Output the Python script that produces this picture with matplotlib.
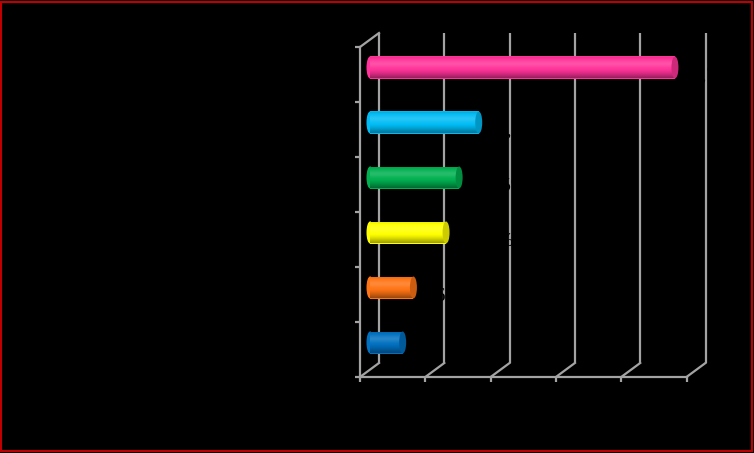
import matplotlib
matplotlib.use('Agg')
import matplotlib.pyplot as plt
import numpy as np
from matplotlib.patches import Ellipse, Rectangle
from matplotlib.transforms import ScaledTranslation
from matplotlib.colors import to_rgb

categories = ["MIMF", "MIMF + anti HTA", "CIC + anti HTA + Imurel",
              "MIMF + CIC + anti HTA + Oméprazole", "MIMF + CIC",
              "MIMF + CIC + anti HTA"]
values = [5.0, 6.65, 11.65, 13.65, 16.65, 46.70]
value_labels = ["5%", "6,65%", "11,65%", "13,65%", "16,65%", "46,70%"]
bar_colors = ["#0070C0", "#FF7414", "#FFFF00", "#00B050", "#00BCF5", "#FF3399"]
x_ticks = [0, 10, 20, 30, 40, 50]
x_tick_labels = ["0%", "10%", "20%", "30%", "40%", "50%"]

W, H = 754, 453
fig = plt.figure(figsize=(W / 100, H / 100), dpi=100, facecolor='black')
AX_W, AX_H = 326.5, 330.0
ax = fig.add_axes([370 / W, (H - 370) / H, AX_W / W, AX_H / H])
ax.set_facecolor('none')
for s in ax.spines.values():
    s.set_visible(False)
ax.set_xticks([])
ax.set_yticks([])

XMAX = 50
NCAT = len(categories)
px_x = XMAX / AX_W
px_y = NCAT / AX_H


def off(dx, dy):
    return ScaledTranslation(dx / 100, dy / 100, fig.dpi_scale_trans)


front = ax.transData + off(-10, -7)
back = ax.transData + off(9, 7)
grid_c = '#A3A3A3'
glw = 1.6
y0, y1 = -0.5, NCAT - 0.5

# back wall gridlines
for t in x_ticks:
    ax.plot([t, t], [y0, y1], color=grid_c, lw=glw, transform=back,
            clip_on=False, zorder=1, solid_capstyle='butt')
    ax.plot([t - 10 * px_x, t + 9 * px_x], [y0 - 7 * px_y, y0 + 7 * px_y],
            color=grid_c, lw=glw, clip_on=False, zorder=1)
    ax.plot([t, t], [y0, y0 - 5 * px_y], color=grid_c, lw=glw, transform=front,
            clip_on=False, zorder=1, solid_capstyle='butt')

ax.plot([0, XMAX], [y0, y0], color=grid_c, lw=glw, transform=front,
        clip_on=False, zorder=1)
ax.plot([0, 0], [y0, y1], color=grid_c, lw=glw, transform=front,
        clip_on=False, zorder=1)
for b in np.arange(y0, y1 + 0.01, 1.0):
    ax.plot([0, -5 * px_x], [b, b], color=grid_c, lw=glw, transform=front,
            clip_on=False, zorder=1, solid_capstyle='butt')
ax.plot([-10 * px_x, 9 * px_x], [y1 - 7 * px_y, y1 + 7 * px_y],
        color=grid_c, lw=glw, clip_on=False, zorder=1)


def shade(c, n=80):
    c = np.array(to_rgb(c))
    t = np.linspace(0, 1, n)[:, None]
    h = 0.15 * np.exp(-((t - 0.35) / 0.16) ** 2)
    d = 1 - 0.40 * np.clip((t - 0.6) / 0.4, 0, 1) ** 1.3 \
        - 0.10 * np.clip((0.15 - t) / 0.15, 0, 1)
    rgb = c[None, :] * d
    rgb = rgb + (1 - rgb) * h
    return np.clip(rgb, 0, 1)[:, None, :]


bh = 0.4
cap_w = 7 * px_x
bars = ax.barh(range(NCAT), values, height=bh, left=0, color=bar_colors,
               zorder=3, linewidth=0)
for i, (v, c, bar) in enumerate(zip(values, bar_colors, bars)):
    grad = shade(c)
    left_el = Ellipse((0, i), cap_w, bh, facecolor=c, edgecolor='none',
                      zorder=3, clip_on=False)
    ax.add_patch(left_el)
    for clip in (bar, left_el):
        im = ax.imshow(grad, extent=[-cap_w, v, i - bh / 2, i + bh / 2],
                       origin='upper', aspect='auto', zorder=3.5,
                       interpolation='bilinear')
        im.set_clip_box(None)
        im.set_clip_path(clip)
    cc = np.array(to_rgb(c)) * 0.8
    end_el = Ellipse((v, i), cap_w, bh, facecolor=cc, edgecolor='none',
                     zorder=4, clip_on=False)
    ax.add_patch(end_el)
    ax.annotate(value_labels[i], xy=(v, i), xytext=(8 * 0.72, -8 * 0.72),
                textcoords='offset points', ha='left', va='center',
                fontsize=14, family='Liberation Serif', color='black', zorder=5)

for i, lab in enumerate(categories):
    ax.text(0, i, lab, transform=front + off(-18, -3), ha='right', va='center',
            fontsize=12, fontweight='bold', family='Liberation Sans',
            color='black')

for t, lab in zip(x_ticks, x_tick_labels):
    ax.text(t, y0, lab, transform=front + off(0, -34), ha='center', va='center',
            fontsize=13, family='Liberation Serif', fontweight='bold',
            color='black')

ax.set_xlim(0, XMAX)
ax.set_ylim(y0, y1)

fig.add_artist(Rectangle((1.3 / W, 2.0 / H), 750.2 / W, 449.0 / H,
                         transform=fig.transFigure, fill=False,
                         edgecolor='#C00000', lw=1.5))

fig.savefig('out.png', dpi=100, facecolor='black')
